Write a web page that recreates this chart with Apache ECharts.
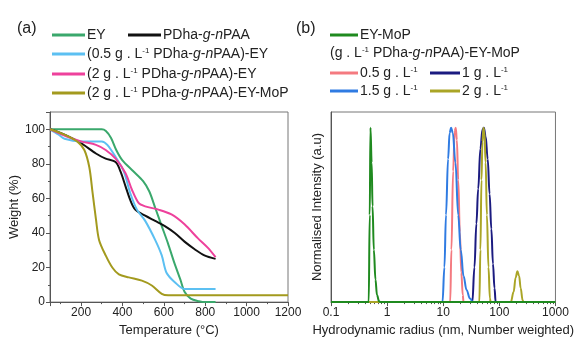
<!DOCTYPE html>
<html>
<head>
<meta charset="utf-8">
<script src="https://cdn.jsdelivr.net/npm/echarts@6/dist/echarts.min.js"></script>
<style>
  html, body { margin: 0; padding: 0; background: #fff; }
  #chart { width: 577px; height: 342px; }
</style>
</head>
<body>
<div id="chart"></div>
<script>
// (a) TGA: [temperature °C, weight %]
const tgaEY = [[50,100],[300,100],[320,99],[345,95],[370,88],[400,82],[450,76],[500,70],[530,64],[560,54],[590,44],[620,34],[650,23],[680,13],[700,6],[730,2],[770,0.5],[800,0],[850,0]]
const tgaPolymer = [[50,100],[128,96.5],[200,92],[272,86],[319,83],[367,81],[391,75.5],[415,67],[438,59],[462,53.5],[510,50],[558,47],[605,44],[653,40],[700,35],[749,30.6],[796,27],[850,25]]
const tgaEY05 = [[50,100],[90,97],[120,94.5],[200,93],[300,93],[327,91],[367,84],[407,75.5],[438,63],[470,53.5],[510,47],[558,36],[590,27],[613,17],[653,11.5],[700,7.6],[764,7.6],[850,7.6]]
const tgaEY2 = [[50,100],[128,96],[200,93],[272,91],[319,88],[367,83],[415,74.6],[446,65],[478,57.4],[510,55.4],[574,53.5],[637,50.7],[700,45],[764,37],[812,31.5],[850,26]]
const tgaMoP = [[50,100],[128,96.5],[184,92.7],[216,88],[240,78],[256,63],[272,48],[287,36],[319,27],[351,20],[383,16],[431,14.3],[494,12.4],[542,9.6],[590,4.8],[621,4],[800,4],[1200,4]]

// (b) DLS: [radius nm, normalised intensity]
const dlsMoP = [[0.1,0],[0.47,0],[0.49,0.5],[0.505,1.0],[0.53,0.8],[0.55,0.55],[0.58,0.3],[0.62,0.13],[0.66,0.04],[0.72,0.005],[0.76,0],[1000,0]]
const dls05 = [[0.1,0],[13.3,0],[14,0.3],[15,0.75],[16,0.98],[16.7,1.0],[17.5,0.93],[18.5,0.7],[19.8,0.4],[21,0.17],[22.3,0.04],[23,0],[1000,0]]
const dls1 = [[0.1,0],[33,0],[36,0.2],[39,0.45],[42,0.65],[46,0.88],[50,0.99],[53,1.0],[57,0.95],[62,0.82],[67,0.62],[72,0.42],[77,0.22],[82,0.08],[86,0],[1000,0]]
const dls15 = [[0.1,0],[9.7,0],[10.5,0.2],[11.2,0.5],[12.2,0.82],[13,0.97],[13.8,1.0],[14.8,0.97],[16.5,0.8],[18.5,0.5],[20.5,0.3],[23,0.15],[26,0.07],[30,0.02],[34,0],[1000,0]]
const dls2 = [[0.1,0],[44,0],[46,0.3],[48,0.7],[50,0.92],[52,1.0],[54,0.98],[57,0.8],[60,0.5],[64,0.2],[68,0.02],[70,0],[160,0],[180,0.06],[195,0.14],[210,0.177],[225,0.15],[240,0.08],[260,0.01],[270,0],[1000,0]]

// minor ticks of the log axis (2..9 of each decade)
const logMinorTicks = []
for (const dec of [0.1, 1, 10, 100]) {
  for (let k = 2; k <= 9; k++) logMinorTicks.push(+(k * dec).toPrecision(3))
}

const font = '"Liberation Sans", Arial, sans-serif'
const axisColor = '#555'
const textColor = '#222'

const names = {
  ey: 'EY',
  poly: 'PDha-g-nPAA',
  ey05: '(0.5 g . L-1 PDha-g-nPAA)-EY',
  ey2: '(2 g . L-1 PDha-g-nPAA)-EY',
  mop2: '(2 g . L-1 PDha-g-nPAA)-EY-MoP',
  mop: 'EY-MoP',
  c05: '0.5 g . L-1',
  c1: '1 g . L-1',
  c15: '1.5 g . L-1',
  c2: '2 g . L-1'
}

const rich = {
  t: { fontSize: 14, color: textColor, fontFamily: font, fontWeight: 'normal' },
  i: { fontSize: 14, color: textColor, fontFamily: font, fontWeight: 'normal', fontStyle: 'italic' },
  s: { fontSize: 8, color: textColor, fontFamily: font, fontWeight: 'normal', verticalAlign: 'top', padding: [0, 0, 6, 0] }
}

const polyRich = '{t|PDha-}{i|g}{t|-}{i|n}{t|PAA}'
const richNames = {}
richNames[names.ey] = '{t|EY}'
richNames[names.poly] = polyRich
richNames[names.ey05] = '{t|(0.5 g . L}{s|-1}{t| }' + polyRich + '{t|)-EY}'
richNames[names.ey2] = '{t|(2 g . L}{s|-1}{t| }' + polyRich + '{t|)-EY}'
richNames[names.mop2] = '{t|(2 g . L}{s|-1}{t| }' + polyRich + '{t|)-EY-MoP}'
richNames[names.mop] = '{t|EY-MoP}'
richNames[names.c05] = '{t|0.5 g . L}{s|-1}'
richNames[names.c1] = '{t|1 g . L}{s|-1}'
richNames[names.c15] = '{t|1.5 g . L}{s|-1}'
richNames[names.c2] = '{t|2 g . L}{s|-1}'

function legendItem(name, left, top, w) {
  return {
    data: [name],
    left: left,
    top: top,
    padding: 0,
    icon: 'rect',
    itemWidth: w,
    itemHeight: 3,
    selectedMode: false,
    formatter: n => richNames[n],
    textStyle: { rich: rich, padding: [0, 0, 0, -3] }
  }
}

const chart = echarts.init(document.getElementById('chart'))

const lineSeries = (name, data, color, xi, smooth, mono) => ({
  name: name,
  type: 'line',
  xAxisIndex: xi,
  yAxisIndex: xi,
  data: data,
  showSymbol: false,
  smooth: smooth,
  smoothMonotone: mono,
  lineStyle: { color: color, width: 2 },
  itemStyle: { color: color }
})

chart.setOption({
  animation: false,
  textStyle: { fontFamily: font },
  title: [
    { text: '(a)', left: 12, top: 16, textStyle: { fontSize: 16, fontWeight: 'normal', color: textColor, fontFamily: font } },
    { text: '(b)', left: 291, top: 16, textStyle: { fontSize: 16, fontWeight: 'normal', color: textColor, fontFamily: font } },
    { text: '{t|(g . L}{s|-1}{t| }' + polyRich + '{t|)-EY-MoP}', left: 330, top: 46, padding: 0,
      textStyle: { rich: rich, fontWeight: 'normal' } }
  ],
  legend: [
    legendItem(names.ey, 52, 28, 33),
    legendItem(names.poly, 128, 28, 33),
    legendItem(names.ey05, 52, 47, 33),
    legendItem(names.ey2, 52, 67, 33),
    legendItem(names.mop2, 52, 86, 33),
    legendItem(names.mop, 330, 28, 28),
    legendItem(names.c05, 330, 66, 28),
    legendItem(names.c1, 430, 66, 30),
    legendItem(names.c15, 330, 84, 28),
    legendItem(names.c2, 430, 84, 30)
  ],
  grid: [
    { left: 50, right: 289, top: 112, bottom: 39, show: true, borderColor: '#777', borderWidth: 1 },
    { left: 331, right: 8, top: 112, bottom: 39, show: true, borderColor: '#777', borderWidth: 1 }
  ],
  xAxis: [
    {
      type: 'value', gridIndex: 0, min: 50, max: 1200,
      name: 'Temperature (°C)', nameLocation: 'middle', nameGap: 20,
      nameTextStyle: { fontSize: 13, color: textColor },
      axisLine: { lineStyle: { color: axisColor } },
      axisTick: { length: 4, lineStyle: { color: axisColor } },
      minorTick: { show: true, splitNumber: 2, length: 2, lineStyle: { color: axisColor } },
      axisLabel: { showMinLabel: false, fontSize: 12, color: textColor, margin: 5, formatter: v => String(v) },
      splitLine: { show: false }
    },
    {
      type: 'log', gridIndex: 1, min: 0.1, max: 1000, logBase: 10,
      name: 'Hydrodynamic radius (nm, Number weighted)', nameLocation: 'middle', nameGap: 20,
      nameTextStyle: { fontSize: 13, color: textColor },
      axisLine: { lineStyle: { color: axisColor } },
      axisTick: { length: 4, lineStyle: { color: axisColor } },
      axisLabel: { fontSize: 12, color: textColor, margin: 5, formatter: v => String(v) },
      splitLine: { show: false }
    },
    {
      type: 'log', gridIndex: 1, min: 0.1, max: 1000, logBase: 10, position: 'bottom',
      axisLine: { show: false },
      axisTick: { show: true, length: 2, customValues: logMinorTicks, lineStyle: { color: axisColor } },
      axisLabel: { show: false },
      splitLine: { show: false }
    }
  ],
  yAxis: [
    {
      type: 'value', gridIndex: 0, min: 0, max: 110, interval: 20,
      name: 'Weight (%)', nameLocation: 'middle', nameGap: 27,
      nameTextStyle: { fontSize: 13, color: textColor },
      axisLine: { show: true, lineStyle: { color: axisColor } },
      axisTick: { show: true, length: 4, lineStyle: { color: axisColor } },
      minorTick: { show: true, splitNumber: 2, length: 2, lineStyle: { color: axisColor } },
      axisLabel: { showMaxLabel: false, fontSize: 12, color: textColor, margin: 5 },
      splitLine: { show: false }
    },
    {
      type: 'value', gridIndex: 1, min: 0, max: 1.09,
      name: 'Normalised Intensity (a.u)', nameLocation: 'middle', nameGap: 7,
      nameTextStyle: { fontSize: 13, color: textColor },
      axisLine: { show: true, lineStyle: { color: axisColor } },
      axisTick: { show: false },
      axisLabel: { show: false },
      splitLine: { show: false }
    }
  ],
  series: [
    lineSeries(names.ey, tgaEY, '#3aa86c', 0, 0.3),
    lineSeries(names.poly, tgaPolymer, '#111111', 0, 0.3),
    lineSeries(names.ey05, tgaEY05, '#5cc0f2', 0, 0.3),
    lineSeries(names.ey2, tgaEY2, '#ee419c', 0, 0.3),
    lineSeries(names.mop2, tgaMoP, '#a39a1e', 0, 0.3),
    lineSeries(names.c05, dls05, '#f47a80', 1, 0.4, 'x'),
    lineSeries(names.c1, dls1, '#1b1b80', 1, 0.4, 'x'),
    lineSeries(names.c15, dls15, '#2f7be2', 1, 0.4, 'x'),
    lineSeries(names.c2, dls2, '#aaa526', 1, 0.4, 'x'),
    lineSeries(names.mop, dlsMoP, '#1f8a1f', 1, 0.4, 'x')
  ]
})
</script>
</body>
</html>
